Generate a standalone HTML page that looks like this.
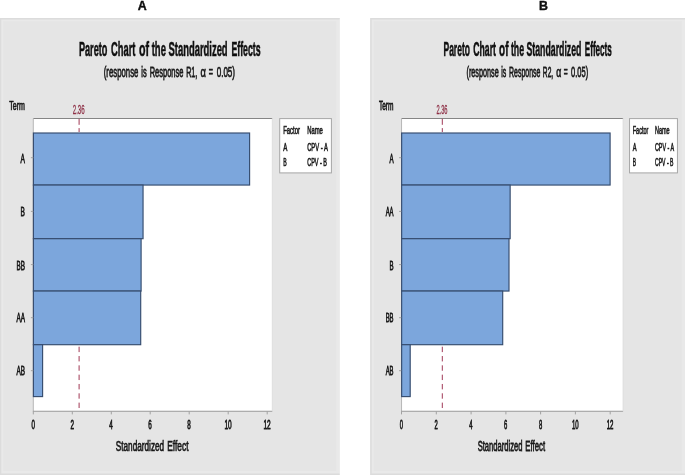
<!DOCTYPE html>
<html><head><meta charset="utf-8"><title>Pareto Chart of the Standardized Effects</title>
<style>
html,body{margin:0;padding:0;background:#fff;}
body{width:685px;height:475px;overflow:hidden;}
svg{display:block}
.t{font-family:"Liberation Sans",sans-serif;fill:#1a1a1a;stroke:#1a1a1a;stroke-width:0.6px;vector-effect:non-scaling-stroke;}
.r{fill:#8e2f45;stroke:#8e2f45;stroke-width:0.25px;}
.l{stroke-width:0.5px;}
.tb{font-family:"Liberation Sans",sans-serif;font-weight:bold;fill:#111;stroke:#111;stroke-width:0.45px;vector-effect:non-scaling-stroke;}
.h{font-family:"Liberation Sans",sans-serif;font-weight:bold;fill:#0a0a0a;stroke:#0a0a0a;stroke-width:0.35px;}
</style></head><body>
<svg width="685" height="475" viewBox="0 0 685 475">
<defs><filter id="bl" x="-2%" y="-2%" width="104%" height="104%"><feGaussianBlur stdDeviation="0.45"/></filter><filter id="bl2" x="-50%" y="-2%" width="200%" height="104%"><feGaussianBlur stdDeviation="0.25"/></filter></defs>
<rect width="685" height="475" fill="#ffffff"/>
<g filter="url(#bl)">
<text x="142.35" y="9.9" text-anchor="middle" class="h" font-size="12.4">A</text>
<text x="543.5" y="10.4" text-anchor="middle" class="h" font-size="12.4">B</text>
<rect x="0" y="18" width="339.6" height="457" fill="#e5e5e5"/>
<rect x="1.6" y="19.6" width="336.40000000000003" height="453" fill="none" stroke="#e9e9e9" stroke-width="3.2"/>
<path d="M0.6 475V18.8H339.6" fill="none" stroke="#dcdcdc" stroke-width="1.4"/>
<path d="M0 474.2H339.6" fill="none" stroke="#dcdcdc" stroke-width="1.6"/>
<rect x="33.30" y="118.5" width="239.00" height="292.7" fill="#ffffff"/>
<path d="M33.30 118.5H272.30" fill="none" stroke="#858585" stroke-width="1.1"/>
<path d="M33.30 118.5V411.2" fill="none" stroke="#b0b0b0" stroke-width="0.9"/>
<path d="M32.90 411.2H272.30" fill="none" stroke="#989898" stroke-width="1.1"/>
<path d="M272.30 118.5V411.2" fill="none" stroke="#dedede" stroke-width="1"/>
<rect x="33.40" y="133.0" width="216.20" height="52.05" fill="#7ba6dc" stroke="#364c6e" stroke-width="1.15"/>
<rect x="33.40" y="185.05" width="109.65" height="53.65" fill="#7ba6dc" stroke="#364c6e" stroke-width="1.15"/>
<rect x="33.40" y="238.7" width="107.70" height="52.35" fill="#7ba6dc" stroke="#364c6e" stroke-width="1.15"/>
<rect x="33.40" y="291.05" width="107.30" height="53.65" fill="#7ba6dc" stroke="#364c6e" stroke-width="1.15"/>
<rect x="33.40" y="344.7" width="9.20" height="51.90" fill="#7ba6dc" stroke="#364c6e" stroke-width="1.15"/>
<path d="M30.90 157.7H33.30" stroke="#a2a2a2" stroke-width="1"/>
<text transform="translate(20.55 162.7) scale(0.5235 1)" class="t" font-size="12.6">A</text>
<path d="M30.90 211.4H33.30" stroke="#a2a2a2" stroke-width="1"/>
<text transform="translate(20.55 216.3) scale(0.5235 1)" class="t" font-size="12.6">B</text>
<path d="M30.90 264.6H33.30" stroke="#a2a2a2" stroke-width="1"/>
<text transform="translate(16.45 269.7) scale(0.5057 1)" class="t" font-size="12.6">BB</text>
<path d="M30.90 317.7H33.30" stroke="#a2a2a2" stroke-width="1"/>
<text transform="translate(16.45 322.2) scale(0.5057 1)" class="t" font-size="12.6">AA</text>
<path d="M30.90 370.7H33.30" stroke="#a2a2a2" stroke-width="1"/>
<text transform="translate(16.45 375.3) scale(0.5057 1)" class="t" font-size="12.6">AB</text>
<path d="M33.3 411.2v3.2" stroke="#a2a2a2" stroke-width="1"/>
<text transform="translate(31.40 429.0) scale(0.4996 1)" class="t" font-size="12.6">0</text>
<path d="M72.3 411.2v3.2" stroke="#a2a2a2" stroke-width="1"/>
<text transform="translate(70.38 429.0) scale(0.4996 1)" class="t" font-size="12.6">2</text>
<path d="M111.3 411.2v3.2" stroke="#a2a2a2" stroke-width="1"/>
<text transform="translate(109.36 429.0) scale(0.4996 1)" class="t" font-size="12.6">4</text>
<path d="M150.2 411.2v3.2" stroke="#a2a2a2" stroke-width="1"/>
<text transform="translate(148.34 429.0) scale(0.4996 1)" class="t" font-size="12.6">6</text>
<path d="M189.2 411.2v3.2" stroke="#a2a2a2" stroke-width="1"/>
<text transform="translate(187.32 429.0) scale(0.4996 1)" class="t" font-size="12.6">8</text>
<path d="M228.2 411.2v3.2" stroke="#a2a2a2" stroke-width="1"/>
<text transform="translate(224.40 429.0) scale(0.5210 1)" class="t" font-size="12.6">10</text>
<path d="M267.2 411.2v3.2" stroke="#a2a2a2" stroke-width="1"/>
<text transform="translate(263.38 429.0) scale(0.5210 1)" class="t" font-size="12.6">12</text>
<text transform="translate(115.75 450.8) scale(0.5379 1)" class="t" font-size="15.3">Standardized</text>
<text transform="translate(167.25 450.8) scale(0.5483 1)" class="t" font-size="15.3">Effect</text>
<text transform="translate(9.25 109.8) scale(0.5353 1)" class="t" font-size="13.2">Term</text>
<text transform="translate(72.73 114.0) scale(0.4818 1)" class="t r" font-size="12.8">2.36</text>
<text transform="translate(78.90 55.6) scale(0.4696 1)" class="tb" font-size="19.5">Pareto</text>
<text transform="translate(111.10 55.6) scale(0.4792 1)" class="tb" font-size="19.5">Chart</text>
<text transform="translate(138.90 55.6) scale(0.5475 1)" class="tb" font-size="19.5">of</text>
<text transform="translate(151.70 55.6) scale(0.4855 1)" class="tb" font-size="19.5">the</text>
<text transform="translate(168.50 55.6) scale(0.4835 1)" class="tb" font-size="19.5">Standardized</text>
<text transform="translate(231.40 55.6) scale(0.4490 1)" class="tb" font-size="19.5">Effects</text>
<text transform="translate(103.75 77.4) scale(0.5134 1)" class="t" font-size="15.2">(response</text>
<text transform="translate(141.25 77.4) scale(0.4921 1)" class="t" font-size="15.2">is</text>
<text transform="translate(149.65 77.4) scale(0.4938 1)" class="t" font-size="15.2">Response</text>
<text transform="translate(186.15 77.4) scale(0.4693 1)" class="t" font-size="15.2">R1,</text>
<text transform="translate(200.55 77.4) scale(0.6146 1)" class="t" font-size="15.2">α</text>
<text transform="translate(208.65 77.4) scale(0.4731 1)" class="t" font-size="15.2">=</text>
<text transform="translate(216.65 77.4) scale(0.5312 1)" class="t" font-size="15.2">0.05)</text>
<rect x="279.70" y="118.6" width="51.70" height="54.3" fill="#ffffff" stroke="#a6a6a6" stroke-width="1"/>
<text transform="translate(283.15 134.2) scale(0.5141 1)" class="t l" font-size="11.6">Factor</text>
<text transform="translate(307.15 134.2) scale(0.5105 1)" class="t l" font-size="11.6">Name</text>
<text transform="translate(283.15 150.9) scale(0.5299 1)" class="t l" font-size="11.6">A</text>
<text transform="translate(307.15 150.9) scale(0.5041 1)" class="t l" font-size="11.6">CPV - A</text>
<text transform="translate(283.25 166.2) scale(0.4524 1)" class="t l" font-size="11.6">B</text>
<text transform="translate(307.15 166.2) scale(0.4749 1)" class="t l" font-size="11.6">CPV - B</text>
<rect x="370.4" y="18" width="314.6" height="457" fill="#e5e5e5"/>
<rect x="372.0" y="19.6" width="311.40000000000003" height="453" fill="none" stroke="#e9e9e9" stroke-width="3.2"/>
<path d="M371.0 475V18.8H685.0" fill="none" stroke="#dcdcdc" stroke-width="1.4"/>
<path d="M370.4 474.2H685.0" fill="none" stroke="#dcdcdc" stroke-width="1.6"/>
<rect x="401.55" y="118.5" width="221.55" height="292.7" fill="#ffffff"/>
<path d="M401.55 118.5H623.10" fill="none" stroke="#858585" stroke-width="1.1"/>
<path d="M401.55 118.5V411.2" fill="none" stroke="#b0b0b0" stroke-width="0.9"/>
<path d="M401.15 411.2H623.10" fill="none" stroke="#989898" stroke-width="1.1"/>
<path d="M623.10 118.5V411.2" fill="none" stroke="#dedede" stroke-width="1"/>
<rect x="401.65" y="133.0" width="208.45" height="52.05" fill="#7ba6dc" stroke="#364c6e" stroke-width="1.15"/>
<rect x="401.65" y="185.05" width="108.50" height="53.65" fill="#7ba6dc" stroke="#364c6e" stroke-width="1.15"/>
<rect x="401.65" y="238.7" width="107.35" height="52.35" fill="#7ba6dc" stroke="#364c6e" stroke-width="1.15"/>
<rect x="401.65" y="291.05" width="101.05" height="53.65" fill="#7ba6dc" stroke="#364c6e" stroke-width="1.15"/>
<rect x="401.65" y="344.7" width="8.55" height="51.90" fill="#7ba6dc" stroke="#364c6e" stroke-width="1.15"/>
<path d="M399.03 157.7H401.25" stroke="#a2a2a2" stroke-width="1"/>
<text transform="translate(389.43 162.7) scale(0.4877 1)" class="t" font-size="12.6">A</text>
<path d="M399.03 211.4H401.25" stroke="#a2a2a2" stroke-width="1"/>
<text transform="translate(385.63 216.3) scale(0.4698 1)" class="t" font-size="12.6">AA</text>
<path d="M399.03 264.6H401.25" stroke="#a2a2a2" stroke-width="1"/>
<text transform="translate(389.43 269.7) scale(0.4877 1)" class="t" font-size="12.6">B</text>
<path d="M399.03 317.7H401.25" stroke="#a2a2a2" stroke-width="1"/>
<text transform="translate(385.63 322.2) scale(0.4698 1)" class="t" font-size="12.6">BB</text>
<path d="M399.03 370.7H401.25" stroke="#a2a2a2" stroke-width="1"/>
<text transform="translate(385.63 375.3) scale(0.4698 1)" class="t" font-size="12.6">AB</text>
<path d="M401.5 411.2v3.2" stroke="#a2a2a2" stroke-width="1"/>
<text transform="translate(399.68 429.0) scale(0.4660 1)" class="t" font-size="12.6">0</text>
<path d="M436.3 411.2v3.2" stroke="#a2a2a2" stroke-width="1"/>
<text transform="translate(434.48 429.0) scale(0.4660 1)" class="t" font-size="12.6">2</text>
<path d="M471.1 411.2v3.2" stroke="#a2a2a2" stroke-width="1"/>
<text transform="translate(469.28 429.0) scale(0.4660 1)" class="t" font-size="12.6">4</text>
<path d="M505.9 411.2v3.2" stroke="#a2a2a2" stroke-width="1"/>
<text transform="translate(504.08 429.0) scale(0.4660 1)" class="t" font-size="12.6">6</text>
<path d="M540.6 411.2v3.2" stroke="#a2a2a2" stroke-width="1"/>
<text transform="translate(538.88 429.0) scale(0.4660 1)" class="t" font-size="12.6">8</text>
<path d="M575.4 411.2v3.2" stroke="#a2a2a2" stroke-width="1"/>
<text transform="translate(571.92 429.0) scale(0.4843 1)" class="t" font-size="12.6">10</text>
<path d="M610.2 411.2v3.2" stroke="#a2a2a2" stroke-width="1"/>
<text transform="translate(606.72 429.0) scale(0.4843 1)" class="t" font-size="12.6">12</text>
<text transform="translate(477.63 450.8) scale(0.4986 1)" class="t" font-size="15.3">Standardized</text>
<text transform="translate(525.35 450.8) scale(0.5086 1)" class="t" font-size="15.3">Effect</text>
<text transform="translate(378.96 109.8) scale(0.4967 1)" class="t" font-size="13.2">Term</text>
<text transform="translate(436.42 114.0) scale(0.4472 1)" class="t r" font-size="12.8">2.36</text>
<text transform="translate(443.49 55.6) scale(0.4356 1)" class="tb" font-size="19.5">Pareto</text>
<text transform="translate(473.32 55.6) scale(0.4446 1)" class="tb" font-size="19.5">Chart</text>
<text transform="translate(499.08 55.6) scale(0.5089 1)" class="tb" font-size="19.5">of</text>
<text transform="translate(510.94 55.6) scale(0.4508 1)" class="tb" font-size="19.5">the</text>
<text transform="translate(526.50 55.6) scale(0.4482 1)" class="tb" font-size="19.5">Standardized</text>
<text transform="translate(584.78 55.6) scale(0.4165 1)" class="tb" font-size="19.5">Effects</text>
<text transform="translate(466.51 77.4) scale(0.4760 1)" class="t" font-size="15.2">(response</text>
<text transform="translate(501.26 77.4) scale(0.4579 1)" class="t" font-size="15.2">is</text>
<text transform="translate(509.04 77.4) scale(0.4578 1)" class="t" font-size="15.2">Response</text>
<text transform="translate(542.86 77.4) scale(0.4358 1)" class="t" font-size="15.2">R2,</text>
<text transform="translate(556.20 77.4) scale(0.5720 1)" class="t" font-size="15.2">α</text>
<text transform="translate(563.70 77.4) scale(0.4409 1)" class="t" font-size="15.2">=</text>
<text transform="translate(571.12 77.4) scale(0.4928 1)" class="t" font-size="15.2">0.05)</text>
<rect x="629.54" y="118.6" width="47.90" height="54.3" fill="#ffffff" stroke="#a6a6a6" stroke-width="1"/>
<text transform="translate(632.73 134.2) scale(0.4770 1)" class="t l" font-size="11.6">Factor</text>
<text transform="translate(654.96 134.2) scale(0.4737 1)" class="t l" font-size="11.6">Name</text>
<text transform="translate(632.73 150.9) scale(0.4938 1)" class="t l" font-size="11.6">A</text>
<text transform="translate(654.96 150.9) scale(0.4676 1)" class="t l" font-size="11.6">CPV - A</text>
<text transform="translate(632.82 166.2) scale(0.4220 1)" class="t l" font-size="11.6">B</text>
<text transform="translate(654.96 166.2) scale(0.4406 1)" class="t l" font-size="11.6">CPV - B</text>
</g>
<g filter="url(#bl2)">
<path d="M79.1 118.8V132" stroke="#a03a55" stroke-width="1" stroke-dasharray="6 3.3" fill="none"/>
<path d="M79.1 346.7V410.7" stroke="#a03a55" stroke-width="1" stroke-dasharray="5.4 3.92" fill="none"/>
<path d="M442.3 118.8V132" stroke="#a03a55" stroke-width="1" stroke-dasharray="6 3.3" fill="none"/>
<path d="M442.3 346.7V410.7" stroke="#a03a55" stroke-width="1" stroke-dasharray="5.4 3.92" fill="none"/>
</g>
</svg>
</body></html>
